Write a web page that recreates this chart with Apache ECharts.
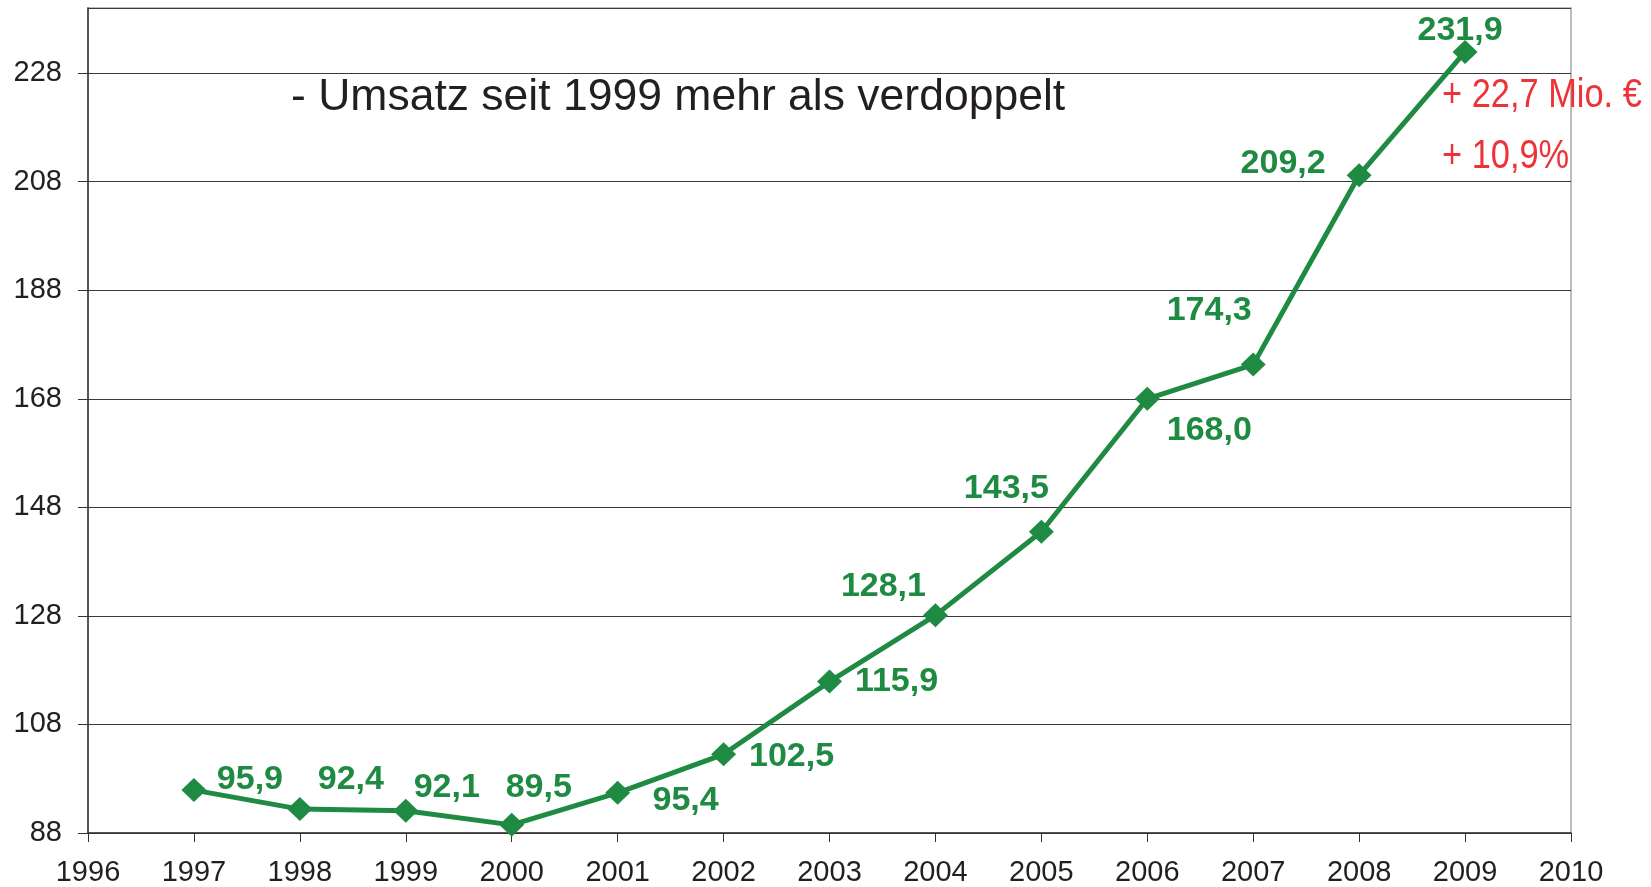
<!DOCTYPE html>
<html>
<head>
<meta charset="utf-8">
<script src="https://cdn.jsdelivr.net/npm/echarts@6/dist/echarts.min.js"></script>
<style>
  html, body { margin: 0; padding: 0; background: #fff; }
  #chart { width: 1651px; height: 887px; }
</style>
</head>
<body>
<div id="chart"></div>
<script>
// ---- data ----
const years = [1997, 1998, 1999, 2000, 2001, 2002, 2003, 2004, 2005, 2006, 2007, 2008, 2009];
const umsatz = [95.9, 92.4, 92.1, 89.5, 95.4, 102.5, 115.9, 128.1, 143.5, 168.0, 174.3, 209.2, 231.9];
const yTicks = [88, 108, 128, 148, 168, 188, 208, 228];
const xRange = [1996, 2010];
const noteText = '- Umsatz seit 1999 mehr als verdoppelt';
const deltaAbs = '+ 22,7 Mio. €';
const deltaPct = '+ 10,9%';

// ---- layout (label offsets relative to each marker, px) ----
const labelOffsets = [
  [56, -10], [51, -29], [41, -23], [27, -37], [68, 8], [68, 2], [67, 0],
  [-52, -29], [-35, -43], [62, 32], [-44, -54], [-76, -12], [-5, -21]
];

const GREEN = '#1f8a42';
const DARK = '#231f20';
const RED = '#ee3338';
const FONT = "'Liberation Sans', Arial, sans-serif";

const fmt = v => String(v.toFixed(1)).replace('.', ',');

const chart = echarts.init(document.getElementById('chart'), null, { renderer: 'canvas' });
chart.setOption({
  animation: false,
  backgroundColor: '#fff',
  grid: {
    left: 88, right: 80, top: 8, bottom: 54,
    show: true, borderColor: '#a6a6a6', borderWidth: 1.5, backgroundColor: 'transparent'
  },
  xAxis: {
    type: 'value',
    min: xRange[0], max: xRange[1], interval: 1,
    axisLine: { show: true, onZero: false, lineStyle: { color: '#333', width: 1.5 } },
    axisTick: { show: true, length: 9, lineStyle: { color: '#333', width: 1 } },
    axisLabel: { color: DARK, fontFamily: FONT, fontSize: 29, margin: 25, formatter: v => String(v) },
    splitLine: { show: false }
  },
  yAxis: {
    type: 'value',
    min: yTicks[0], max: 240, interval: 20,
    axisLine: { show: true, onZero: false, lineStyle: { color: '#333', width: 1.5 } },
    axisTick: { show: true, length: 10, lineStyle: { color: '#333', width: 1 } },
    axisLabel: { color: DARK, fontFamily: FONT, fontSize: 29, margin: 26, showMaxLabel: false,
      formatter: v => (yTicks.indexOf(v) >= 0 ? String(v) : '') },
    splitLine: { show: true, lineStyle: { color: '#3a3a3a', width: 1.2 } }
  },
  series: [{
    type: 'line',
    data: years.map((y, i) => ({
      value: [y, umsatz[i]],
      label: { offset: labelOffsets[i] }
    })),
    symbol: 'diamond',
    symbolSize: [25, 24],
    lineStyle: { color: GREEN, width: 5 },
    itemStyle: { color: GREEN },
    label: {
      show: true,
      position: 'inside',
      align: 'center',
      verticalAlign: 'middle',
      color: GREEN,
      fontFamily: FONT,
      fontWeight: 'bold',
      fontSize: 34,
      formatter: p => fmt(p.value[1])
    },
    z: 5
  }],
  graphic: [
    { type: 'text', x: 291, y: 98, z: 10,
      style: { text: noteText, font: '44.5px ' + FONT, fill: DARK, align: 'left', verticalAlign: 'middle' } },
    { type: 'text', x: 1442, y: 96, z: 10, scaleX: 0.86,
      style: { text: deltaAbs, font: '40px ' + FONT, fill: RED, align: 'left', verticalAlign: 'middle' } },
    { type: 'text', x: 1442, y: 157, z: 10, scaleX: 0.86,
      style: { text: deltaPct, font: '40px ' + FONT, fill: RED, align: 'left', verticalAlign: 'middle' } }
  ]
});
</script>
</body>
</html>
